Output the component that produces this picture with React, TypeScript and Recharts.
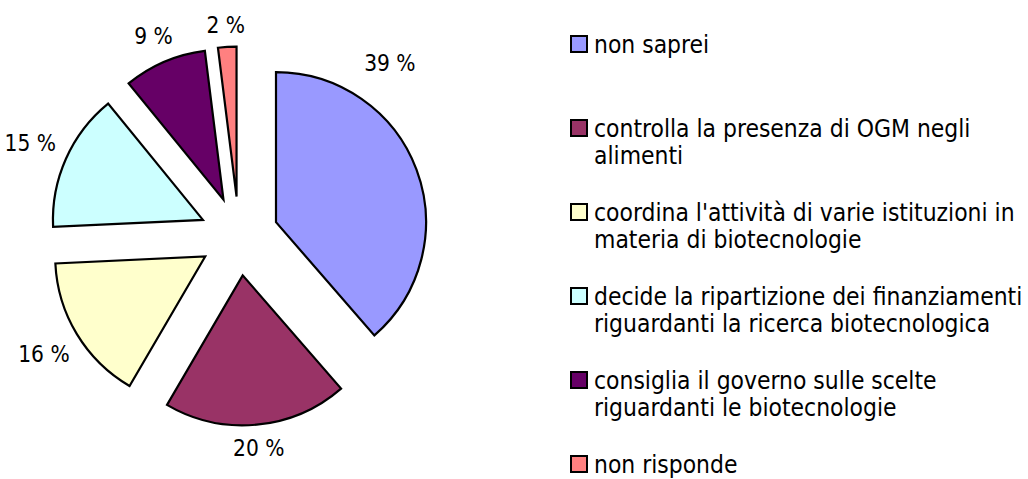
import { PieChart, Pie, Cell, Legend } from "recharts";

const categories = [
  "non saprei",
  "controlla la presenza di OGM negli alimenti",
  "coordina l'attività di varie istituzioni in materia di biotecnologie",
  "decide la ripartizione dei finanziamenti riguardanti la ricerca biotecnologica",
  "consiglia il governo sulle scelte riguardanti le biotecnologie",
  "non risponde",
];
const percentages = [39, 20, 16, 15, 9, 2];
const colors = ["#9999FF", "#993366", "#FFFFCC", "#CCFFFF", "#660066", "#FF8080"];

const data = categories.map((name, i) => ({ name, value: percentages[i] }));

const WIDTH = 1028;
const HEIGHT = 479;
const CX = 239;
const CY = 236;
const RADIUS = 150;
const EXPLODE = 39.5;
const FONT = "'DejaVu Sans Condensed', 'DejaVu Sans', sans-serif";
const RAD = Math.PI / 180;

// mid angle of each slice, clockwise from 12 o'clock (same split the pie uses)
const total = percentages.reduce((a, b) => a + b, 0);
const midAngles: number[] = [];
{
  let acc = 0;
  percentages.forEach((v) => {
    midAngles.push(((acc + v / 2) / total) * 360);
    acc += v;
  });
}

export default function App() {
  const renderLabel = (visible: number) => (props: any) => {
    if (props.index !== visible) return null;
    const { cx, cy, outerRadius, value } = props;
    // the first label sits nearer the top, as in the original
    const angle = visible === 0 ? midAngles[0] - 34 : midAngles[visible];
    const ux = Math.sin(angle * RAD);
    const uy = -Math.cos(angle * RAD);
    const text = `${value} %`;
    const w = text.length * 12.5;
    const h = 16;
    const gap = visible === 0 ? 25 : 13;
    const d = outerRadius + gap + Math.abs(ux) * w / 2 + Math.abs(uy) * h / 2;
    return (
      <text
        x={cx + d * ux}
        y={cy + d * uy}
        textAnchor="middle"
        dominantBaseline="central"
        fontSize={22.5}
        fontFamily={FONT}
        fill="#000"
      >
        {text}
      </text>
    );
  };

  const renderLegend = () => (
    <div style={{ position: "relative", width: WIDTH - 570, height: HEIGHT, fontFamily: FONT }}>
      {categories.map((name, i) => (
        <div
          key={name}
          style={{ position: "absolute", left: 0, top: 30.5 + i * 84, display: "flex", alignItems: "flex-start" }}
        >
          <span
            style={{
              width: 14,
              height: 14,
              border: "2px solid #000",
              background: colors[i],
              marginTop: 4.5,
              flex: "none",
            }}
          />
          <span style={{ marginLeft: 6, width: 434, lineHeight: "27px", fontSize: 24.4, color: "#000" }}>{name}</span>
        </div>
      ))}
    </div>
  );

  return (
    <div style={{ position: "absolute", left: 0, top: 0, width: WIDTH, height: HEIGHT, background: "#fff" }}>
      <PieChart width={WIDTH} height={HEIGHT} margin={{ top: 0, right: 0, bottom: 0, left: 0 }}>
        {percentages.map((_, visible) => (
          <Pie
            key={visible}
            data={data}
            dataKey="value"
            nameKey="name"
            cx={CX + EXPLODE * Math.sin(midAngles[visible] * RAD)}
            cy={CY - EXPLODE * Math.cos(midAngles[visible] * RAD)}
            outerRadius={RADIUS}
            startAngle={90}
            endAngle={-270}
            isAnimationActive={false}
            labelLine={false}
            label={renderLabel(visible)}
          >
            {data.map((entry, i) => (
              <Cell
                key={entry.name}
                fill={i === visible ? colors[i] : "none"}
                stroke={i === visible ? "#000" : "none"}
                strokeWidth={2.2}
              />
            ))}
          </Pie>
        ))}
        <Legend
          layout="vertical"
          align="right"
          verticalAlign="top"
          content={renderLegend}
          wrapperStyle={{ left: 570, top: 0, width: WIDTH - 570, height: HEIGHT }}
        />
      </PieChart>
    </div>
  );
}
